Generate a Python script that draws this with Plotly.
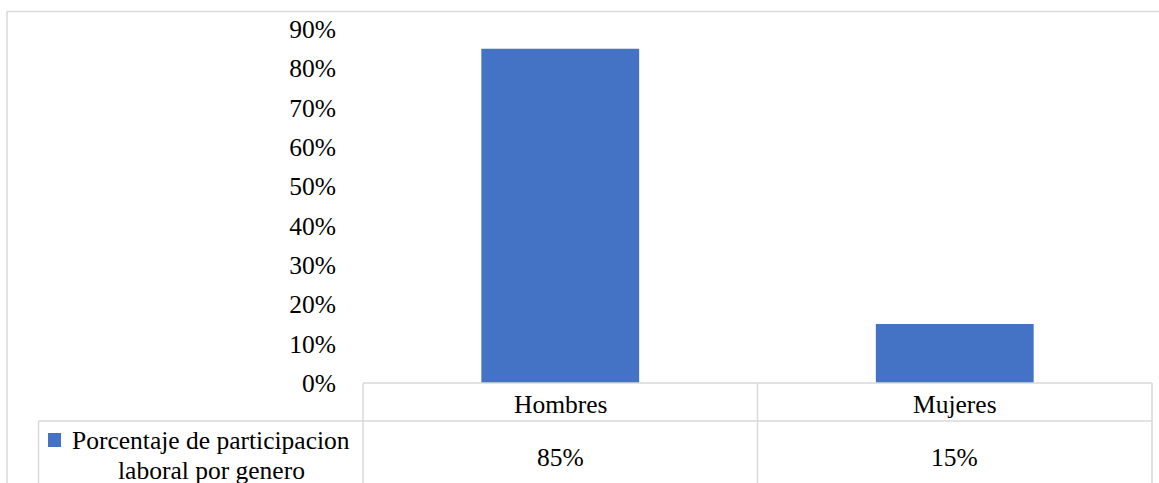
import plotly.graph_objects as go

categories = ["Hombres", "Mujeres"]
values = [0.85, 0.15]
value_labels = ["85%", "15%"]
series_name_lines = ["Porcentaje de participacion", "laboral por genero"]
tick_vals = [0, 0.1, 0.2, 0.3, 0.4, 0.5, 0.6, 0.7, 0.8, 0.9]

W, H = 1159, 483
L, R, T, B = 363, 7, 29, 100
pw, ph = W - L - R, H - T - B

def px(x):
    return (x - L) / pw

def py(y):
    return (H - B - y) / ph

FONT = "Liberation Serif"
GRID = "#d9d9d9"
BLUE = "#4472C4"
FS = 25.5

fig = go.Figure()
fig.add_trace(go.Bar(x=categories, y=values, marker=dict(color=BLUE, line=dict(width=0)),
                     name=series_name_lines[0], showlegend=False, hoverinfo="skip"))

shapes = []
def line(x0, y0, x1, y1):
    shapes.append(dict(type="line", xref="paper", yref="paper", x0=x0, y0=y0, x1=x1, y1=y1,
                       line=dict(color=GRID, width=1.5), layer="above"))

bottom = py(495)
# outer chart border
line(px(7), py(11.5), px(1170), py(11.5))
line(px(7), py(11.5), px(7), bottom)
# data table
line(0, 0, 1, 0)
line(px(38.5), py(421), 1, py(421))
line(0, 0, 0, bottom)
line(0.5, 0, 0.5, bottom)
line(1, 0, 1, bottom)
line(px(38.5), py(421), px(38.5), bottom)
# legend key
shapes.append(dict(type="rect", xref="paper", yref="paper", x0=px(48), x1=px(61), y0=py(447), y1=py(433),
                   fillcolor=BLUE, line=dict(width=0)))

tf = dict(family=FONT, size=FS, color="#000")
annotations = []
for c, v in zip(categories, value_labels):
    annotations.append(dict(x=c, xref="x", y=py(404), yref="paper", text=c, showarrow=False,
                            xanchor="center", yanchor="middle", font=tf))
    annotations.append(dict(x=c, xref="x", y=py(457), yref="paper", text=v, showarrow=False,
                            xanchor="center", yanchor="middle", font=tf))
annotations.append(dict(x=px(211), xref="paper", y=py(440), yref="paper", text=series_name_lines[0],
                        showarrow=False, xanchor="center", yanchor="middle", font=tf))
annotations.append(dict(x=px(211), xref="paper", y=py(470), yref="paper", text=series_name_lines[1],
                        showarrow=False, xanchor="center", yanchor="middle", font=tf))

fig.update_layout(
    width=W, height=H,
    margin=dict(l=L, r=R, t=T, b=B),
    paper_bgcolor="white", plot_bgcolor="white",
    bargap=0.6,
    shapes=shapes, annotations=annotations,
    xaxis=dict(showticklabels=False, showgrid=False, zeroline=False, showline=False, ticks=""),
    yaxis=dict(range=[0, 0.9], tickvals=tick_vals, tickformat=".0%", showgrid=False,
               zeroline=False, showline=False, ticks="", ticklabelstandoff=26,
               tickfont=tf),
    font=dict(family=FONT),
)

fig.write_html("out.html", config={"displayModeBar": False},
               post_script="document.body.style.margin='0';document.body.style.overflow='hidden';")
